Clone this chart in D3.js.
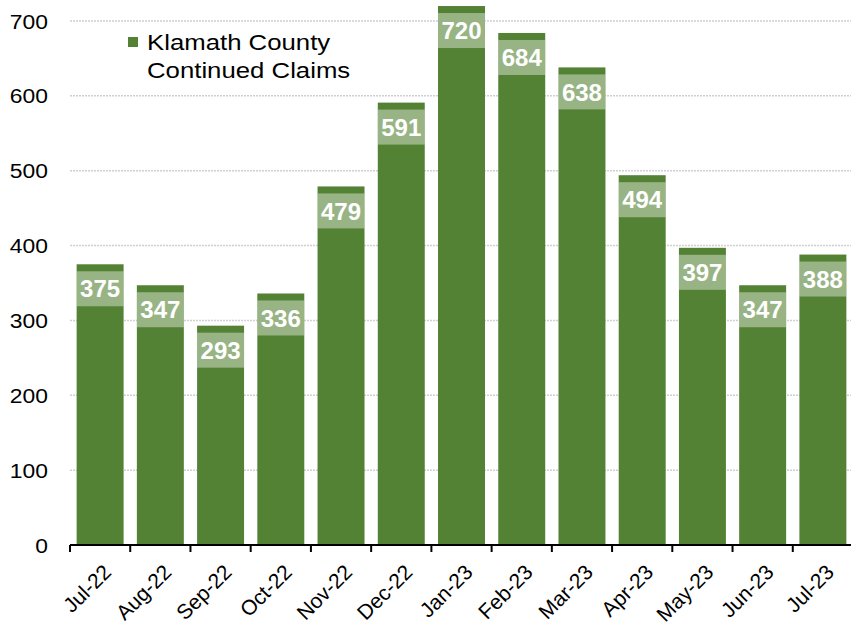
<!DOCTYPE html>
<html>
<head>
<meta charset="utf-8">
<script src="https://cdn.jsdelivr.net/npm/d3@7"></script>
<style>
  body { margin: 0; background: #fff; }
  svg { font-family: Arial, 'Liberation Sans', sans-serif; }
</style>
</head>
<body>
<div id="chart"></div>
<script>
const months = ['Jul-22', 'Aug-22', 'Sep-22', 'Oct-22', 'Nov-22', 'Dec-22', 'Jan-23',
  'Feb-23', 'Mar-23', 'Apr-23', 'May-23', 'Jun-23', 'Jul-23']
const claims = [375, 347, 293, 336, 479, 591, 720, 684, 638, 494, 397, 347, 388]
const yTicks = [0, 100, 200, 300, 400, 500, 600, 700]
const legendLines = ['Klamath County', 'Continued Claims']

const W = 851
const H = 627
const margin = { top: 21, right: -2, bottom: 82, left: 70 }
const width = W - margin.left - margin.right
const height = H - margin.top - margin.bottom

const svg = d3.select('#chart')
  .append('svg')
  .attr('width', W)
  .attr('height', H)

const g = svg.append('g')
  .attr('transform', 'translate(' + margin.left + ',' + margin.top + ')')

const x = d3.scaleBand()
  .domain(months)
  .range([0, width])
  .paddingInner(0.22)
  .paddingOuter(0.11)

const y = d3.scaleLinear()
  .domain([0, 700])
  .range([height, 0])

// gridlines
g.append('g')
  .selectAll('line')
  .data(yTicks.filter(d => d > 0))
  .enter().append('line')
  .attr('x1', 0)
  .attr('x2', width)
  .attr('y1', d => y(d))
  .attr('y2', d => y(d))
  .attr('stroke', '#d0d0d0')
  .attr('stroke-width', 1.5)
  .attr('stroke-dasharray', '2,1')

// y labels (source text looks a bit stretched sideways)
g.append('g')
  .selectAll('text')
  .data(yTicks)
  .enter().append('text')
  .attr('transform', d => 'translate(-22,' + y(d) + ') scale(1.09,1)')
  .attr('dy', '0.36em')
  .attr('text-anchor', 'end')
  .attr('font-size', 21)
  .attr('fill', '#000')
  .text(d => d)

// bars
g.append('g')
  .selectAll('rect')
  .data(claims)
  .enter().append('rect')
  .attr('x', (d, i) => x(months[i]))
  .attr('y', d => y(d))
  .attr('width', x.bandwidth())
  .attr('height', d => height - y(d))
  .attr('fill', '#548235')

// value labels
const labels = g.append('g')
  .selectAll('g')
  .data(claims)
  .enter().append('g')
  .attr('transform', (d, i) => 'translate(' + x(months[i]) + ',' + (y(d) + 7) + ')')

labels.append('rect')
  .attr('width', x.bandwidth())
  .attr('height', 35)
  .attr('fill', '#fff')
  .attr('fill-opacity', 0.4)

labels.append('text')
  .attr('x', x.bandwidth() / 2)
  .attr('y', 17.5)
  .attr('dy', '0.36em')
  .attr('text-anchor', 'middle')
  .attr('font-size', 24)
  .attr('font-weight', 'bold')
  .attr('fill', '#fff')
  .text(d => d)

// x axis
const step = x.step()
const xAxis = g.append('g')
  .attr('transform', 'translate(0,' + height + ')')

xAxis.append('line')
  .attr('x1', 0)
  .attr('x2', width)
  .attr('stroke', '#000')
  .attr('stroke-width', 2)

xAxis.selectAll('.tick')
  .data(months)
  .enter().append('line')
  .attr('class', 'tick')
  .attr('x1', (d, i) => i * step)
  .attr('x2', (d, i) => i * step)
  .attr('y1', 0)
  .attr('y2', 7)
  .attr('stroke', '#000')
  .attr('stroke-width', 2)

xAxis.selectAll('.lbl')
  .data(months)
  .enter().append('text')
  .attr('class', 'lbl')
  .attr('text-anchor', 'end')
  .attr('font-size', 21)
  .attr('transform', d => 'translate(' + (x(d) + x.bandwidth() / 2 + 2) + ',18) rotate(-45)')
  .attr('dy', '0.7em')
  .text(d => d)

// legend
const legend = svg.append('g')
  .attr('transform', 'translate(128,37)')

legend.append('rect')
  .attr('width', 10)
  .attr('height', 10)
  .attr('fill', '#548235')

legend.selectAll('text')
  .data(legendLines)
  .enter().append('text')
  .attr('transform', (d, i) => 'translate(19,' + (13 + i * 28) + ') scale(1.12,1)')
  .attr('font-size', 23)
  .attr('fill', '#000')
  .text(d => d)
</script>
</body>
</html>
